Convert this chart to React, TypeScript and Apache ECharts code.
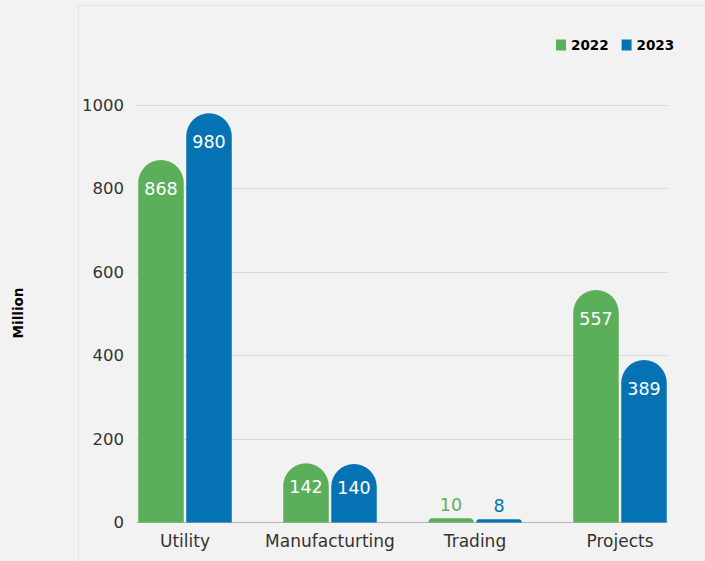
import React, { useEffect, useRef } from "react";
import * as echarts from "echarts";

const categories = ["Utility", "Manufacturting", "Trading", "Projects"];
const values2022 = [868, 142, 10, 557];
const values2023 = [980, 140, 8, 389];
const yTicks = { min: 0, max: 1000, interval: 200 };
const seriesNames = ["2022", "2023"];
const colors = ["#5CAF5A", "#0573B3"];

const FONT = "'DejaVu Sans', 'Noto Sans', sans-serif";

function buildData(vals: number[], color: string) {
  return vals.map((v) => {
    const small = v < 50;
    return {
      value: v,
      label: small
        ? { position: "top", distance: 4, color }
        : { position: "insideTop", distance: v < 200 ? 15 : 20, color: "#ffffff" },
    };
  });
}

export default function App() {
  const ref = useRef<HTMLDivElement>(null);
  useEffect(() => {
    document.body.style.margin = "0";
    if (!ref.current) return;
    const chart = echarts.init(ref.current, null, { renderer: "svg" });
    const seriesCommon = {
      type: "bar",
      xAxisIndex: 0,
      yAxisIndex: 0,
      barWidth: 45.5,
      barGap: "5.5%",
      itemStyle: { borderRadius: [23, 23, 0, 0] },
      label: { show: true, fontSize: 17.5, fontFamily: FONT },
    };
    chart.setOption({
      animation: false,
      backgroundColor: "#f2f2f2",
      legend: {
        data: seriesNames,
        left: 551,
        top: 33,
        icon: "rect",
        itemWidth: 10,
        itemHeight: 11,
        itemGap: 13,
        textStyle: { fontSize: 13.5, fontWeight: "bold", color: "#000", fontFamily: FONT },
      },
      grid: [
        { left: 112.5, width: 580, top: 105, height: 417.5 },
        { left: 137, right: 38, top: 105, height: 417.5 },
      ],
      xAxis: [
        {
          type: "category",
          gridIndex: 0,
          data: categories,
          axisLine: { show: false },
          axisTick: { show: false },
          axisLabel: { interval: 0, fontSize: 17, color: "#333", margin: 10, fontFamily: FONT },
        },
        {
          type: "value",
          gridIndex: 1,
          min: 0,
          max: 1,
          axisLine: { show: true, onZero: false, lineStyle: { color: "#b5b5b5", width: 1 } },
          axisTick: { show: false },
          axisLabel: { show: false },
          splitLine: { show: false },
        },
      ],
      yAxis: [
        {
          type: "value",
          gridIndex: 0,
          min: yTicks.min,
          max: yTicks.max,
          interval: yTicks.interval,
          axisLabel: { show: false },
          axisLine: { show: false },
          axisTick: { show: false },
          splitLine: { show: false },
        },
        {
          type: "value",
          gridIndex: 1,
          min: yTicks.min,
          max: yTicks.max,
          interval: yTicks.interval,
          axisLine: { show: false },
          axisTick: { show: false },
          axisLabel: {
            fontSize: 16.5,
            color: "#333",
            margin: 13,
            fontFamily: FONT,
            formatter: (v: number) => String(v),
          },
          splitLine: { show: true, lineStyle: { color: "#d8d8d8", width: 1 } },
        },
      ],
      graphic: [
        {
          type: "rect",
          shape: { x: 78.5, y: 5.5, width: 700, height: 700 },
          style: { fill: "none", stroke: "#e3e3e3", lineWidth: 1 },
          silent: true,
          z: -1,
        },
        {
          type: "text",
          x: 18,
          y: 313,
          rotation: Math.PI / 2,
          style: {
            text: "Million",
            fontSize: 13.5,
            fontWeight: "bold",
            fontFamily: FONT,
            fill: "#000",
            align: "center",
            verticalAlign: "middle",
          },
        },
      ],
      series: [
        {
          ...seriesCommon,
          name: seriesNames[0],
          color: colors[0],
          data: buildData(values2022, colors[0]),
        },
        {
          ...seriesCommon,
          name: seriesNames[1],
          color: colors[1],
          data: buildData(values2023, colors[1]),
        },
      ],
    });
    return () => chart.dispose();
  }, []);
  return <div ref={ref} style={{ width: 705, height: 561 }} />;
}
